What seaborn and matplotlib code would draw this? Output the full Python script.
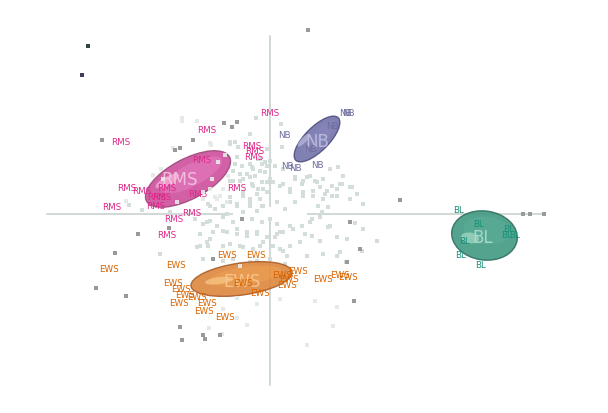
import matplotlib
matplotlib.use("Agg")
import matplotlib.pyplot as plt
from matplotlib.patches import Ellipse, Rectangle
import seaborn as sns
import pandas as pd

sns.set_style("white")
plt.rcParams['font.family'] = ['DejaVu Sans']

# ---------------- data (PC scores, 1 unit = 100 px) ----------------
light_x = [-0.88, -0.88, -0.14, -0.20, -0.59, -0.52, -0.40, -0.32, -0.45, -0.35, -0.28, -0.20, -0.10, -0.03,
           -0.42, -0.30, -0.20, -0.10, 0.00, -0.37, -0.27, -0.17, -0.07, -0.47, -0.53, -0.43, -0.33, -0.20,
           -0.10, -0.60, -0.67, -0.58, -1.07, -1.00, -0.93, -1.44, -1.41, -1.28, -1.09, -1.17, -0.97, -0.73,
           0.11, 0.12, 0.05, -0.05, -0.17, -0.27, -0.12, -0.03, -0.20, -0.08, -0.60, -0.50, -0.40,
           0.25, 0.33, 0.40, 0.47, 0.53, 0.62, 0.70, 0.82, 0.43, 0.55, 0.67, 0.80, 0.93, 0.33, 0.25, 0.15,
           0.20, 0.10, 0.13, 0.03, 0.60, 0.68, 0.73,
           0.42, 0.52, 0.58, 0.85, 0.93, 0.13, 0.23, 0.35, 0.42, 0.30, 0.20, 0.50, 0.67, 0.77, 1.07, 0.92,
           0.53, 0.67, 0.37, 0.17, 0.10, 0.05, 0.07, 0.70, 0.76, 0.45, 0.63, 0.10, 0.67, 0.37,
           -0.63, -0.53, -0.43, -0.33, -0.23, -0.13, -0.60, -0.47, -0.30, -0.17, -0.07, -0.37, -0.20, -0.08,
           -0.30, -1.10, -0.61, -0.33, -0.47, -0.23, -0.48, -0.70, -0.63, -0.33, -0.13,
           -0.60, -0.40, -0.35, -0.03, -0.12, -0.33, -0.18, -0.08, 0.00, -0.23, -0.15, -0.05, -0.37, -0.30,
           -0.18, -0.08, -0.40, -0.27, -0.13, -0.03, -0.47, -0.33, -0.20, -0.07, -0.55, -0.43, -0.27, -0.13,
           -0.40, -0.47, -0.55, -0.62, -0.67,
           0.13, 0.25, 0.32, 0.37, 0.45, 0.50, 0.57, 0.62, 0.53, 0.43, 0.33, 0.20, 0.48, 0.58, 0.67, 0.72,
           0.80, 0.87, 0.15, 0.07, 0.50, 0.40, 0.32, 0.20, 0.10, 0.60, 0.93,
           -0.75, -0.67, -0.60, -0.47, -0.37, -0.18, -0.08, 0.00, -0.70, -0.57, -0.47, -0.33, -0.23, -0.13,
           -0.03, 0.07, -0.73, -0.62, -0.40, -0.27, -0.10, 0.03, 0.13, -0.67, -0.47, -0.30, -0.13, 0.00, 0.15]
light_y = [0.96, 0.93, 0.96, 0.80, 0.69, 0.52, 0.72, 0.67, 0.59, 0.50, 0.48, 0.50, 0.55, 0.48,
           0.38, 0.40, 0.37, 0.43, 0.35, 0.33, 0.22, 0.28, 0.25, 0.25, 0.15, 0.12, 0.08, 0.08,
           0.15, 0.08, 0.15, 0.35, 0.35, 0.02, 0.12, 0.13, 0.09, 0.04, 0.45, 0.39, 0.66, 0.93,
           0.90, 0.67, 0.48, 0.52, 0.45, 0.35, 0.25, 0.32, 0.15, 0.08, 0.25, 0.18, 0.12,
           0.37, 0.33, 0.38, 0.32, 0.35, 0.28, 0.30, 0.27, 0.23, 0.20, 0.18, 0.15, 0.10, 0.18, 0.12, 0.05,
           0.25, 0.28, 0.45, 0.32, 0.45, 0.47, 0.38,
           -0.05, 0.02, -0.13, -0.09, -0.15, -0.18, -0.15, -0.20, -0.22, -0.28, -0.32, -0.27, -0.23, -0.25,
           -0.27, -0.37, -0.40, -0.42, -0.42, -0.42, -0.35, -0.23, -0.10, -0.38, -0.48, -0.87, -1.12, -0.85,
           -0.93, -1.31,
           -0.08, -0.12, -0.18, -0.15, -0.22, -0.18, -0.25, -0.32, -0.32, -0.35, -0.28, -0.45, -0.48, -0.50,
           -0.52, -0.40, -1.14, -0.84, -0.95, -1.11, -1.20, -0.32, -0.28, -1.04, -0.90,
           0.71, 0.70, 0.72, 0.65, 0.55, 0.57, 0.47, 0.50, 0.53, 0.40, 0.38, 0.42, 0.43, 0.33,
           0.30, 0.32, 0.17, 0.18, 0.20, 0.22, 0.08, 0.10, 0.12, 0.08, 0.05, 0.00, 0.02, 0.03,
           0.33, 0.25, 0.17, 0.10, 0.22,
           0.30, 0.35, 0.30, 0.37, 0.33, 0.27, 0.23, 0.18, 0.15, 0.18, 0.22, 0.22, 0.08, 0.07, 0.25, 0.30,
           0.27, 0.20, 0.05, 0.12, -0.03, -0.08, -0.12, -0.12, -0.18, -0.12, -0.15,
           -0.05, -0.10, -0.07, -0.03, -0.08, -0.05, -0.08, -0.05, -0.20, -0.18, -0.17, -0.20, -0.18, -0.20,
           -0.23, -0.20, -0.33, -0.32, -0.30, -0.33, -0.32, -0.32, -0.37, -0.45, -0.47, -0.50, -0.47, -0.45, -0.50]

dark_x = [-1.68, -0.46, -0.33, -0.38, -0.77, -0.95, -0.90, -1.55, -1.74, -1.44, -0.90, -0.88, -0.65,
          -0.50, -0.67, 0.84, 1.30, 0.80, 0.90, 0.77, -0.28, -0.57, -1.32, -1.01, 0.38, 2.53, 2.60, 2.74]
dark_y = [0.74, 0.91, 0.92, 0.87, 0.74, 0.64, 0.66, -0.39, -0.74, -0.82, -1.13, -1.26, -1.25,
          -1.21, -1.21, -0.87, 0.14, -0.08, -0.35, -0.48, -0.05, -0.45, -0.20, -0.14, 1.84, 0.00, 0.00, 0.00]

odd_x = [-1.82, -1.88]
odd_y = [1.68, 1.39]

rms_x = [0.00, -0.63, -1.49, -0.18, -0.15, -0.16, -0.68, -1.43, -1.28, -1.13, -1.08, -0.72, -0.33,
         -1.58, -1.14, -0.96, -0.78, -1.03, -1.03]
rms_y = [1.01, 0.84, 0.72, 0.68, 0.63, 0.58, 0.54, 0.26, 0.23, 0.17, 0.17, 0.20, 0.26,
         0.07, 0.08, -0.05, 0.01, -0.21, 0.26]
nb_x = [0.75, 0.78, 0.14, 0.17, 0.25, 0.47, 0.62, 0.40]
nb_y = [1.01, 1.01, 0.79, 0.48, 0.46, 0.49, 0.88, 0.65]
bl_x = [1.89, 2.09, 2.39, 2.37, 2.45, 1.95, 1.91, 2.11]
bl_y = [0.04, -0.10, -0.15, -0.21, -0.21, -0.27, -0.41, -0.50]
ews_x = [-1.61, -0.94, -0.43, -0.14, -0.97, -0.89, -0.85, -0.73, -0.91, -0.63, -0.66, -0.45,
         -0.27, -0.10, 0.12, 0.28, 0.19, 0.17, 0.53, 0.70, 0.78]
ews_y = [-0.55, -0.50, -0.40, -0.40, -0.69, -0.75, -0.80, -0.83, -0.88, -0.88, -0.96, -1.03,
         -0.69, -0.78, -0.61, -0.56, -0.64, -0.71, -0.65, -0.61, -0.63]

groups = ["RMS", "NB", "BL", "EWS"]
ell_x = [-0.82, 0.47, 2.145, -0.285]
ell_y = [0.35, 0.75, -0.215, -0.65]
ell_w = [0.94, 0.60, 0.66, 1.02]
ell_h = [0.40, 0.24, 0.49, 0.32]
ell_ang = [28, 45, -8, 8]
big_x = [-0.90, 0.47, 2.13, -0.28]
big_y = [0.35, 0.73, -0.23, -0.67]

axis_h = [-2.23, 2.75]
axis_v = [-1.71, 1.78]

# ---------------- styles ----------------
lab_col = {"RMS": "#e0288a", "NB": "#6c6c9c", "BL": "#18907a", "EWS": "#d86400"}
ell_cols = {
    "RMS": ("#9c4a7a", "#cc4a98", "#e67cc0", "#f7b0d8"),
    "NB": ("#4e4e80", "#6e6ea8", "#8888be", "#b8b8dc"),
    "BL": ("#2c6c5c", "#3c9680", "#5aae96", "#a6dcc8"),
    "EWS": ("#a65a26", "#dc8438", "#eea050", "#f8c888"),
}
big_col = {"RMS": "#f4c8e2", "NB": "#c0c0e0", "BL": "#b0dccd", "EWS": "#f8c890"}

fig = plt.figure(figsize=(6.08, 4.14), dpi=100)
ax = fig.add_axes([0, 0, 1, 1])

# axis lines
ax.plot(axis_h, [0, 0], color="#cfd8d5", lw=1.4, zorder=0)
ax.plot([0, 0], axis_v, color="#cfd8d5", lw=1.4, zorder=0)
ax.add_patch(Rectangle((-0.37, -0.04), 0.74, 0.11, facecolor="white", edgecolor="none", zorder=0.5))

# light cloud of observations (behind)
df_light = pd.DataFrame({"PC1": light_x, "PC2": light_y})
df_dark = pd.DataFrame({"PC1": dark_x, "PC2": dark_y})
sns.scatterplot(data=df_light, x="PC1", y="PC2", ax=ax, marker="s", s=6, color="#d3ddda",
                linewidth=0, zorder=1)

# ellipses with pseudo-3D shading
for g, cx, cy, w, h, a in zip(groups, ell_x, ell_y, ell_w, ell_h, ell_ang):
    edge, mid, light, hi = ell_cols[g]
    ax.add_patch(Ellipse((cx, cy), w, h, angle=a, facecolor=mid, edgecolor=edge, lw=1.0,
                         alpha=0.88, zorder=3))
    ax.add_patch(Ellipse((cx + 0.04 * w, cy + 0.10 * h), w * 0.72, h * 0.55, angle=a,
                         facecolor=light, edgecolor="none", alpha=0.6, zorder=3.1))
    ax.add_patch(Ellipse((cx - 0.22 * w, cy - 0.05 * h), w * 0.28, h * 0.22, angle=a,
                         facecolor=hi, edgecolor="none", alpha=0.7, zorder=3.2))

for g, bx, by in zip(groups, big_x, big_y):
    ax.text(bx, by, g, color=big_col[g], fontsize=12, ha="center", va="center", alpha=0.9, zorder=3.5)

# sample labels
for g, xs, ys in [("RMS", rms_x, rms_y), ("NB", nb_x, nb_y), ("BL", bl_x, bl_y), ("EWS", ews_x, ews_y)]:
    for x, y in zip(xs, ys):
        ax.text(x, y, g, color=lab_col[g], fontsize=6.3, ha="center", va="center", zorder=3.6)

# observations drawn over the ellipses
inside = df_light[(df_light.PC1 < -0.4) & (df_light.PC2 > 0.1) | (df_light.PC2 < -0.5)]
sns.scatterplot(data=inside, x="PC1", y="PC2", ax=ax, marker="s", s=6, color="#e6ecea",
                linewidth=0, alpha=0.9, zorder=4)
sns.scatterplot(data=df_dark, x="PC1", y="PC2", ax=ax, marker="s", s=6, color="#9a9a9a",
                linewidth=0, zorder=4)
ax.scatter(odd_x, odd_y, marker="s", s=7, c=["#2e4a3a", "#3e3e5a"], linewidths=0, zorder=4)

ax.set_xlim(-2.70, 3.38)
ax.set_ylim(-1.99, 2.15)
ax.axis("off")
fig.savefig("out.png", dpi=100)
